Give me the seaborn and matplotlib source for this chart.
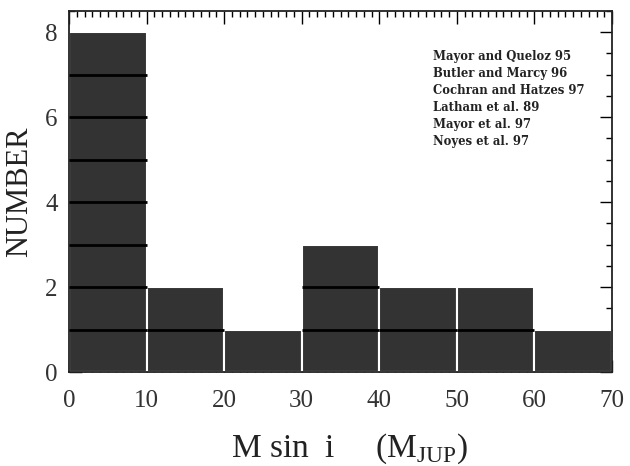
import numpy as np
import matplotlib
matplotlib.use("Agg")
import matplotlib.pyplot as plt
import seaborn as sns
from matplotlib.ticker import MultipleLocator

# histogram of M sin i (Jupiter masses)
bin_edges = [0, 10, 20, 30, 40, 50, 60, 70]
counts = [8, 2, 1, 3, 2, 2, 1]
references = ["Mayor and Queloz 95", "Butler and Marcy 96", "Cochran and Hatzes 97",
              "Latham et al. 89", "Mayor et al. 97", "Noyes et al. 97"]

sns.set_style("ticks")
plt.rcParams['font.family'] = ['Liberation Serif', 'DejaVu Serif']
plt.rcParams['mathtext.fontset'] = 'custom'
plt.rcParams['mathtext.rm'] = 'Liberation Serif'

fig = plt.figure(figsize=(6.3, 4.66), dpi=100)
ax = fig.add_axes([0.1095, 0.2017, 0.862, 0.7747])

centers = [(a + b) / 2 for a, b in zip(bin_edges[:-1], bin_edges[1:])]
sns.histplot(x=centers, weights=counts, bins=bin_edges, color='#333333',
             edgecolor='white', linewidth=1.5, alpha=1, ax=ax)

# black lines between the stacked unit blocks
for left, right, c in zip(bin_edges[:-1], bin_edges[1:], counts):
    levels = list(range(1, c))
    if levels:
        ax.hlines(levels, left, right, color='black', lw=2, zorder=3)

ax.set_xlim(0, 70)
ax.set_ylim(0, 8.5)
ax.xaxis.set_major_locator(MultipleLocator(10))
ax.xaxis.set_minor_locator(MultipleLocator(1))
ax.yaxis.set_major_locator(MultipleLocator(2))
ax.yaxis.set_minor_locator(MultipleLocator(0.5))
ax.tick_params(which='both', direction='in', top=True, right=True, width=1.0,
               color='black', labelcolor='#333333')
ax.tick_params(which='major', length=9)
ax.tick_params(which='minor', length=4)
ax.tick_params(axis='x', which='major', labelsize=18, pad=13)
ax.tick_params(axis='y', which='major', labelsize=18, pad=8)
for s in ax.spines.values():
    s.set_linewidth(1.3)
    s.set_color('#222222')

ax.set_ylabel("NUMBER", fontsize=22, labelpad=8, color='#222222')
ax.set_xlabel(r"M sin  i     (M$_{\mathrm{JUP}}$)", fontsize=24, labelpad=14,
              x=0.5175, color='#222222')

for i, ref in enumerate(references):
    ax.text(0.671, 0.8726 - i * 0.0466, ref, transform=ax.transAxes, fontsize=8.4,
            fontweight='bold', family='DejaVu Serif', va='center', ha='left',
            color='#222222')

fig.savefig("out.png", dpi=100)
